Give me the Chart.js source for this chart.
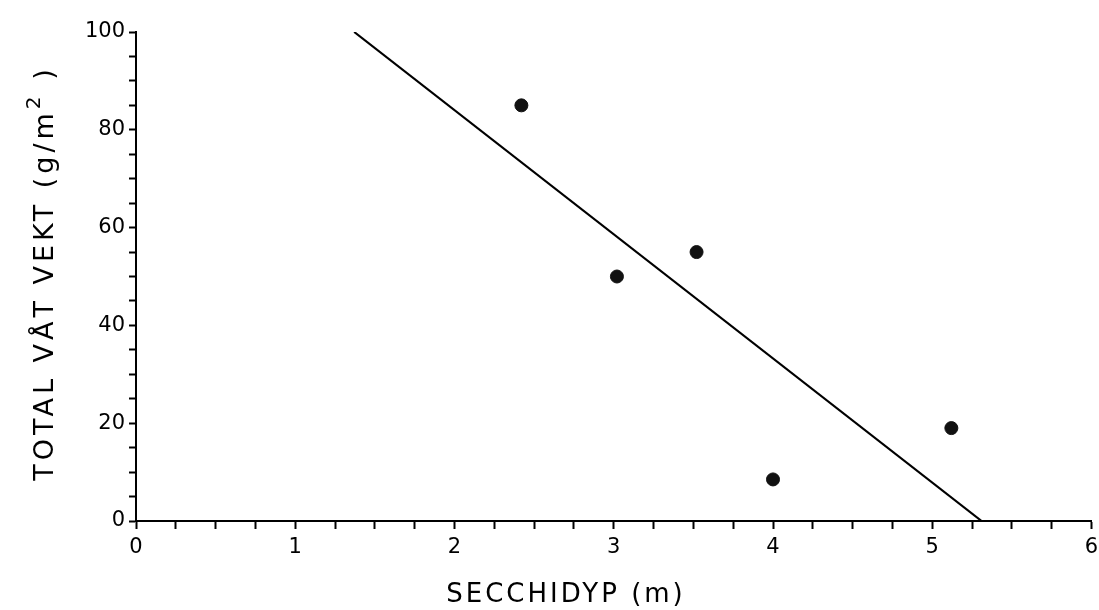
<!DOCTYPE html>
<html>
<head>
<meta charset="utf-8">
<script src="https://cdn.jsdelivr.net/npm/chart.js@4/dist/chart.umd.min.js"></script>
<style>
  html, body { margin: 0; padding: 0; background: #fff; }
  #secchiChart { display: block; }
</style>
</head>
<body>
<canvas id="secchiChart" width="1099" height="610"></canvas>
<script>
// values
const secchiDepth = [2.42, 3.02, 3.52, 4.0, 5.12];
const wetWeight = [85, 50, 55, 8.5, 19];
const fitX = [1.37, 5.31];
const fitY = [100, 0];
const xTickLabels = ["0", "1", "2", "3", "4", "5", "6"];
const yTickLabels = ["0", "20", "40", "60", "80", "100"];

const xTitle = "SECCHIDYP (m)";
const yTitle = ["TOTAL VÅT VEKT (g/m", "2", " )"];

document.addEventListener("DOMContentLoaded", function () {
  const ctx = document.getElementById("secchiChart").getContext("2d");

  const axisTitles = {
    id: "axisTitles",
    afterDraw(chart) {
      const c = chart.ctx;
      c.save();
      c.fillStyle = "#000";
      c.letterSpacing = "3px";
      c.font = "26px 'DejaVu Sans'";
      c.textAlign = "center";
      c.textBaseline = "alphabetic";
      c.fillText(xTitle, 566, 602);

      // rotated y title with raised exponent
      c.translate(53, 273);
      c.rotate(-Math.PI / 2);
      c.letterSpacing = "4px";
      c.textAlign = "left";
      c.font = "27px 'DejaVu Sans'";
      const w0 = c.measureText(yTitle[0]).width;
      c.font = "20px 'DejaVu Sans'";
      const w1 = c.measureText(yTitle[1]).width;
      c.font = "27px 'DejaVu Sans'";
      const w2 = c.measureText(yTitle[2]).width;
      let x = -(w0 + w1 + w2) / 2;
      c.fillText(yTitle[0], x, 0);
      x += w0;
      c.font = "20px 'DejaVu Sans'";
      c.fillText(yTitle[1], x, -13);
      x += w1;
      c.font = "27px 'DejaVu Sans'";
      c.fillText(yTitle[2], x, 0);
      c.restore();
    },
  };

  const chart = new Chart(ctx, {
    type: "scatter",
    data: {
      datasets: [
        {
          label: "Målinger",
          data: secchiDepth.map((x, i) => ({ x: x, y: wetWeight[i] })),
          backgroundColor: "#111",
          borderColor: "#111",
          pointRadius: 6.5,
          pointHoverRadius: 6.5,
        },
        {
          label: "Regresjon",
          data: fitX.map((x, i) => ({ x: x, y: fitY[i] })),
          showLine: true,
          borderColor: "#000",
          borderWidth: 2.2,
          pointRadius: 0,
          fill: false,
        },
      ],
    },
    options: {
      responsive: false,
      animation: false,
      layout: { padding: { top: 32, right: 6, bottom: 0, left: 0 } },
      plugins: {
        legend: { display: false },
        tooltip: { enabled: false },
      },
      scales: {
        x: {
          type: "linear",
          min: 0,
          max: 6,
          afterFit(scale) {
            scale.height = 89;
            scale.paddingLeft = 0;
            scale.paddingRight = 0;
          },
          border: { display: true, color: "#000", width: 2 },
          grid: {
            display: true,
            drawOnChartArea: false,
            drawTicks: true,
            tickLength: 8,
            tickColor: "#000",
            tickWidth: 2,
          },
          ticks: {
            stepSize: 0.25,
            autoSkip: false,
            maxRotation: 0,
            padding: 6,
            color: "#000",
            font: { family: "'DejaVu Sans'", size: 21 },
            callback: function (value) {
              return Number.isInteger(value) ? xTickLabels[value] : "";
            },
          },
        },
        y: {
          type: "linear",
          min: 0,
          max: 100,
          afterFit(scale) {
            scale.width = 136;
            scale.paddingTop = 0;
            scale.paddingBottom = 0;
          },
          border: { display: true, color: "#000", width: 2 },
          grid: {
            display: true,
            drawOnChartArea: false,
            drawTicks: true,
            tickLength: 7,
            tickColor: "#000",
            tickWidth: 2,
          },
          ticks: {
            stepSize: 5,
            autoSkip: false,
            padding: 4,
            color: "#000",
            font: { family: "'DejaVu Sans'", size: 21 },
            callback: function (value) {
              return value % 20 === 0 ? yTickLabels[value / 20] : "";
            },
          },
        },
      },
    },
    plugins: [axisTitles],
  });
});
</script>
</body>
</html>
